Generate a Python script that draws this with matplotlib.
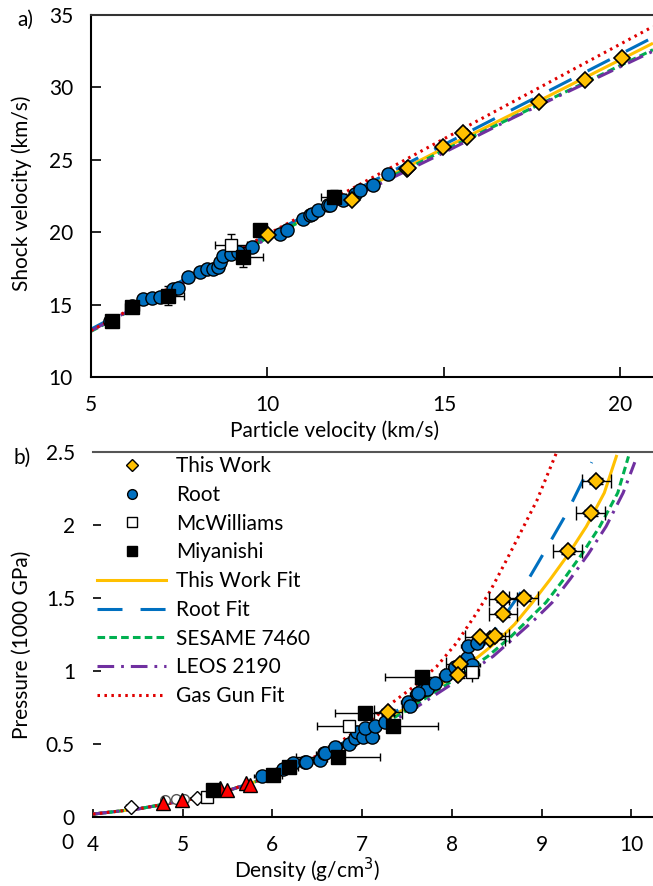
import matplotlib
matplotlib.use("Agg")
import matplotlib.pyplot as plt
from matplotlib.lines import Line2D

plt.rcParams['font.family'] = ['Lato', 'DejaVu Sans']
plt.rcParams['lines.scale_dashes'] = False

# ---------------- Panel a data: shock velocity vs particle velocity ----------------
tw_up = [20.03, 18.99, 17.69, 15.64, 15.53, 14.98, 13.94, 13.99, 12.38, 10.02]
tw_us = [32.0, 30.5, 28.96, 26.58, 26.85, 25.89, 24.39, 24.46, 22.2, 19.78]

root_up = [5.54, 6.15, 6.48, 6.72, 6.95, 7.33, 7.47, 7.76, 8.09, 8.28, 8.46, 8.61, 8.65,
           8.75, 8.98, 9.17, 9.55, 10.35, 10.54, 11.01, 11.2, 11.25, 11.44, 11.72, 11.77,
           12.15, 12.48, 12.62, 13.0, 13.42]
root_us = [13.89, 14.93, 15.39, 15.46, 15.55, 16.09, 16.16, 16.89, 17.24, 17.47, 17.47,
           17.58, 17.93, 18.39, 18.51, 18.62, 18.97, 19.89, 20.12, 20.93, 21.16, 21.28,
           21.51, 21.85, 21.85, 22.25, 22.66, 22.94, 23.24, 24.04]

mcw_up = [8.96]
mcw_us = [19.1]
mcw_uperr = [0.45]
mcw_userr = [0.75]

miy_up = [5.6, 6.15, 7.19, 9.31, 9.79, 11.87]
miy_us = [13.89, 14.81, 15.62, 18.27, 20.12, 22.43]
miy_uperr = [0.15, 0.2, 0.45, 0.55, 0.15, 0.35]
miy_userr = [0.15, 0.2, 0.65, 0.7, 0.2, 0.45]

# fits
fit_tw_up = [9.7, 12.0, 15.0, 18.0, 20.92]
fit_tw_us = [19.3, 22.1, 25.8, 29.45, 33.05]
fit_root_up = [5.0, 10.0, 15.0, 20.92]
fit_root_us = [13.3, 19.8, 26.05, 33.45]
fit_ses_up = [5.0, 10.0, 15.0, 20.92]
fit_ses_us = [13.15, 19.6, 25.65, 32.6]
fit_leos_up = [5.0, 10.0, 15.0, 17.0, 20.92]
fit_leos_us = [13.2, 19.55, 25.5, 27.95, 32.5]
fit_gg_up = [5.0, 10.0, 15.0, 20.92]
fit_gg_us = [13.2, 19.85, 26.45, 34.2]

# ---------------- Panel b data: pressure vs density ----------------
twb_rho = [9.61, 9.55, 9.29, 8.80, 8.57, 8.57, 8.43, 8.48, 8.31, 8.09, 8.07, 7.29]
twb_p = [2.30, 2.08, 1.82, 1.50, 1.49, 1.39, 1.22, 1.24, 1.23, 1.05, 0.97, 0.72]

rootb_rho = [5.88, 6.12, 6.23, 6.36, 6.38, 6.53, 6.57, 6.59, 6.70, 6.85, 6.92, 6.94, 7.01,
             7.11, 7.03, 7.14, 7.26, 7.51, 7.53, 7.61, 7.66, 7.72, 7.81, 7.94, 8.04, 8.17,
             8.23, 8.18, 8.28, 7.62]
rootb_p = [0.28, 0.33, 0.37, 0.38, 0.38, 0.39, 0.44, 0.44, 0.48, 0.50, 0.54, 0.58, 0.55,
           0.55, 0.61, 0.62, 0.65, 0.79, 0.76, 0.84, 0.86, 0.88, 0.92, 0.97, 1.03, 1.09,
           1.04, 1.17, 1.19, 0.85]

mcwb_rho = [5.27, 6.85, 8.22]
mcwb_p = [0.14, 0.62, 0.995]
mcwb_rhoerr = [0.05, 0.35, 0.08]

miyb_rho = [5.34, 6.01, 6.18, 6.73, 7.03, 7.35, 7.67]
miyb_p = [0.185, 0.29, 0.34, 0.41, 0.71, 0.62, 0.96]
miyb_rhoerr = [0.05, 0.1, 0.1, 0.47, 0.33, 0.5, 0.42]

tri_rho = [4.78, 4.99, 5.42, 5.49, 5.71, 5.75]
tri_p = [0.094, 0.116, 0.196, 0.185, 0.23, 0.22]

odia_rho = [4.42, 5.16]
odia_p = [0.07, 0.13]
ocir_rho = [4.80, 4.92, 5.02]
ocir_p = [0.115, 0.12, 0.125]

fitb_tw_rho = [4.0, 4.5, 5.0, 5.5, 6.0, 6.5, 7.0, 7.5, 8.0, 8.3, 8.5, 8.7, 8.9, 9.1, 9.3, 9.5, 9.7, 9.84]
fitb_tw_p = [0.02, 0.055, 0.11, 0.18, 0.28, 0.41, 0.57, 0.75, 0.96, 1.10, 1.20, 1.32, 1.47, 1.63, 1.80, 1.99, 2.22, 2.48]
fitb_root_rho = [4.0, 4.5, 5.0, 5.5, 6.0, 6.5, 7.0, 7.5, 8.0, 8.31, 8.50, 8.76, 8.98, 9.28, 9.56]
fitb_root_p = [0.02, 0.055, 0.11, 0.18, 0.28, 0.41, 0.58, 0.77, 0.99, 1.14, 1.30, 1.53, 1.76, 2.08, 2.43]
fitb_ses_rho = [4.0, 4.5, 5.0, 5.5, 6.0, 6.5, 7.0, 7.5, 8.0, 8.4, 8.65, 8.85, 9.05, 9.25, 9.45, 9.65, 9.85, 9.97]
fitb_ses_p = [0.02, 0.055, 0.11, 0.18, 0.28, 0.41, 0.56, 0.73, 0.93, 1.10, 1.23, 1.35, 1.47, 1.63, 1.80, 1.99, 2.22, 2.47]
fitb_leos_rho = [4.0, 4.5, 5.0, 5.5, 6.0, 6.5, 7.0, 7.5, 8.0, 8.46, 8.70, 8.92, 9.12, 9.32, 9.52, 9.72, 9.91, 10.04]
fitb_leos_p = [0.02, 0.055, 0.11, 0.18, 0.28, 0.41, 0.55, 0.71, 0.91, 1.10, 1.23, 1.35, 1.47, 1.63, 1.80, 1.99, 2.22, 2.43]
fitb_gg_rho = [4.0, 4.5, 5.0, 5.5, 6.0, 6.5, 7.0, 7.33, 7.57, 7.83, 8.05, 8.28, 8.43, 8.61, 8.76, 8.95, 9.17]
fitb_gg_p = [0.02, 0.055, 0.11, 0.18, 0.285, 0.42, 0.61, 0.78, 0.89, 1.03, 1.19, 1.40, 1.55, 1.76, 1.94, 2.17, 2.50]

legend_labels = ["This Work", "Root", "McWilliams", "Miyanishi", "This Work Fit",
                 "Root Fit", "SESAME 7460", "LEOS 2190", "Gas Gun Fit"]

# ---------------- styles ----------------
YEL = '#FFC000'
BLU = '#0070C0'
GRN = '#00B050'
PUR = '#7030A0'
RED = '#E00000'
ls_tw = '-'
ls_root = (0, (18, 13))
ls_ses = (0, (5.5, 3))
ls_leos = (0, (12, 5, 2, 5))
ls_gg = (0, (1.8, 3.2))
LW = 2.2

W, H = 653, 886
fig = plt.figure(figsize=(W / 100, H / 100), dpi=100)
axa = fig.add_axes([91 / W, 1 - 377 / H, (653 - 91) / W, (377 - 15) / H])
axb = fig.add_axes([93 / W, 1 - 817 / H, (653 - 93) / W, (817 - 452) / H])

FS = 15
ekw = dict(ecolor='black', elinewidth=1.0, capsize=3, capthick=1.0, linestyle='none')


def draw_fits(ax, data):
    for x, y, c, ls in data:
        ax.plot(x, y, color=c, linestyle=ls, lw=LW, zorder=2,
                solid_capstyle='butt', dash_capstyle='butt')


# ---- panel a ----
draw_fits(axa, [(fit_tw_up, fit_tw_us, YEL, ls_tw), (fit_root_up, fit_root_us, BLU, ls_root),
                (fit_ses_up, fit_ses_us, GRN, ls_ses), (fit_leos_up, fit_leos_us, PUR, ls_leos),
                (fit_gg_up, fit_gg_us, RED, ls_gg)])
axa.errorbar(root_up, root_us, xerr=0.1, yerr=0.15, zorder=3, **dict(ekw, capsize=1.5))
axa.plot(root_up, root_us, 'o', ms=9.5, mfc=BLU, mec='black', mew=1.0, ls='none', zorder=4)
axa.errorbar(mcw_up, mcw_us, xerr=mcw_uperr, yerr=mcw_userr, zorder=3, **ekw)
axa.plot(mcw_up, mcw_us, 's', ms=9, mfc='white', mec='black', mew=1.0, ls='none', zorder=4)
axa.errorbar(miy_up, miy_us, xerr=miy_uperr, yerr=miy_userr, zorder=3, **ekw)
axa.plot(miy_up, miy_us, 's', ms=9.5, mfc='black', mec='black', ls='none', zorder=5)
axa.errorbar(tw_up, tw_us, xerr=0.12, yerr=0.2, zorder=3, **dict(ekw, capsize=1.5))
axa.plot(tw_up, tw_us, 'D', ms=7.8, mfc=YEL, mec='black', mew=1.2, ls='none', zorder=6)

axa.set_xlim(5, 5 + 562 / 35.3)
axa.set_ylim(10, 35)
axa.set_xticks([5, 10, 15, 20])
axa.set_yticks([10, 15, 20, 25, 30, 35])
axa.spines['right'].set_visible(False)
for s in ['left', 'bottom', 'top']:
    axa.spines[s].set_linewidth(1.5)
axa.spines['top'].set_color('#333333')
axa.tick_params(direction='in', length=7, width=1.2, labelsize=FS, pad=13)

# ---- panel b ----
draw_fits(axb, [(fitb_tw_rho, fitb_tw_p, YEL, ls_tw), (fitb_root_rho, fitb_root_p, BLU, ls_root),
                (fitb_ses_rho, fitb_ses_p, GRN, ls_ses), (fitb_leos_rho, fitb_leos_p, PUR, ls_leos),
                (fitb_gg_rho, fitb_gg_p, RED, ls_gg)])
axb.errorbar(odia_rho, odia_p, xerr=0.05, yerr=0.02, zorder=3, **dict(ekw, capsize=2))
axb.plot(odia_rho, odia_p, 'D', ms=7, mfc='white', mec='black', ls='none', zorder=4)
axb.plot(ocir_rho, ocir_p, 'o', ms=7, mfc='white', mec='#555555', ls='none', zorder=4)
axb.plot(tri_rho, tri_p, '^', ms=10, mfc='#FF0000', mec='black', ls='none', zorder=5)
axb.errorbar(rootb_rho, rootb_p, xerr=0.08, yerr=0.02, zorder=3, **dict(ekw, capsize=1.5))
axb.plot(rootb_rho, rootb_p, 'o', ms=9.5, mfc=BLU, mec='black', mew=1.0, ls='none', zorder=4)
axb.errorbar(mcwb_rho, mcwb_p, xerr=mcwb_rhoerr, yerr=0.02, zorder=3, **ekw)
axb.plot(mcwb_rho, mcwb_p, 's', ms=9, mfc='white', mec='black', ls='none', zorder=4)
axb.errorbar(miyb_rho, miyb_p, xerr=miyb_rhoerr, yerr=0.02, zorder=3, **ekw)
axb.plot(miyb_rho, miyb_p, 's', ms=9.5, mfc='black', mec='black', ls='none', zorder=5)
axb.errorbar(twb_rho, twb_p, xerr=0.16, yerr=0.02, zorder=3, **dict(ekw, capsize=5))
axb.plot(twb_rho, twb_p, 'D', ms=7.8, mfc=YEL, mec='black', mew=1.2, ls='none', zorder=6)

axb.set_xlim(4, 4 + 560 / 89.7)
axb.set_ylim(0, 2.5)
axb.set_xticks([4, 5, 6, 7, 8, 9, 10])
axb.set_yticks([0, 0.5, 1, 1.5, 2, 2.5])
axb.set_yticklabels(['0', '0.5', '1', '1.5', '2', '2.5'])
axb.spines['right'].set_visible(False)
axb.spines['left'].set_visible(False)
axb.spines['bottom'].set_linewidth(1.5)
axb.spines['top'].set_linewidth(1.5)
axb.spines['top'].set_color('#555555')
axb.tick_params(direction='in', length=6, width=1.2, labelsize=FS, pad=13)

handles = [
    Line2D([], [], marker='D', ms=6, mfc=YEL, mec='black', ls='none'),
    Line2D([], [], marker='o', ms=7, mfc=BLU, mec='black', ls='none'),
    Line2D([], [], marker='s', ms=6.5, mfc='white', mec='black', ls='none'),
    Line2D([], [], marker='s', ms=6.5, mfc='black', mec='black', ls='none'),
    Line2D([], [], color=YEL, lw=LW, ls=ls_tw),
    Line2D([], [], color=BLU, lw=LW, ls=ls_root),
    Line2D([], [], color=GRN, lw=LW, ls=ls_ses),
    Line2D([], [], color=PUR, lw=LW, ls=ls_leos),
    Line2D([], [], color=RED, lw=LW, ls=ls_gg),
]
leg = axb.legend(handles, legend_labels, loc='upper left', bbox_to_anchor=(0.0, 1.0),
                 frameon=False, fontsize=FS, handlelength=3.3, handletextpad=0.5,
                 labelspacing=0.42, borderaxespad=0.1, borderpad=0.1)

# ---- labels ----
fig.text(25 / W, 1 - 20 / H, 'a)', fontsize=FS, ha='center', va='center')
fig.text(22 / W, 1 - 458 / H, 'b)', fontsize=FS, ha='center', va='center')
fig.text(22 / W, 1 - 193 / H, 'Shock velocity (km/s)', fontsize=FS, rotation=90,
         ha='center', va='center')
fig.text(335 / W, 1 - 431 / H, 'Particle velocity (km/s)', fontsize=FS, ha='center', va='center')
fig.text(22 / W, 1 - 645 / H, 'Pressure (1000 GPa)', fontsize=FS, rotation=90,
         ha='center', va='center')
fig.text(307 / W, 1 - 870 / H, 'Density (g/cm$^3$)', fontsize=FS, ha='center', va='center')
fig.text(67 / W, 1 - 843 / H, '0', fontsize=FS, ha='center', va='center')

fig.savefig('out.png', dpi=100)
